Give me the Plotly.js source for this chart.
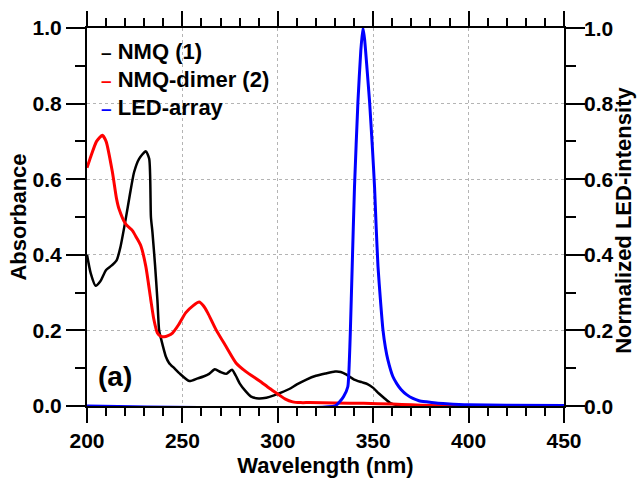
<!DOCTYPE html>
<html>
<head>
<meta charset="utf-8">
<script src="https://cdn.plot.ly/plotly-3.0.1.min.js"></script>
<style>html,body{margin:0;padding:0;background:#fff;}#chart{width:641px;height:478px;}</style>
</head>
<body>
<div id="chart"></div>
<script>
// NMQ (1) absorbance
const nmqX = [200,202,204.5,207,210,213,215.5,217.5,220.3,222.5,224.7,227.3,230.8,232.6,233.5,234.3,235.7,236.9,237.8,238.7,241.3,243,245.7,248.3,253.6,258,261,264,267,270,273,276,278,280,283,286,290,294,298,302,306,310,315,320,325,330,333,336,340,344,347,350,353,356,359,362,366,370,400,450];
const nmqY = [0.40,0.35,0.318,0.33,0.36,0.372,0.385,0.42,0.495,0.56,0.619,0.654,0.674,0.654,0.50,0.46,0.37,0.28,0.20,0.18,0.131,0.114,0.10,0.087,0.066,0.073,0.078,0.085,0.097,0.09,0.085,0.096,0.08,0.06,0.04,0.025,0.02,0.022,0.028,0.036,0.045,0.057,0.07,0.08,0.086,0.091,0.09,0.083,0.07,0.063,0.058,0.048,0.033,0.02,0.008,0.003,0.001,0,0,0];

// NMQ-dimer (2) absorbance
const dimerX = [200,202,205,208,210,213.3,215.5,216.8,220.3,223.8,226,228.2,230.8,233.4,235,236.9,238.5,240.4,242.5,244.8,248,251.8,255.5,258.8,261,263.2,267.6,272.8,278.1,283.3,290.3,295.6,300.8,304,307.8,312,316.6,330,345,360,370,380,390,450];
const dimerY = [0.63,0.66,0.70,0.716,0.70,0.619,0.548,0.521,0.481,0.464,0.445,0.424,0.37,0.282,0.23,0.193,0.185,0.183,0.186,0.193,0.215,0.247,0.265,0.275,0.265,0.247,0.202,0.158,0.114,0.091,0.067,0.047,0.029,0.018,0.011,0.009,0.009,0.008,0.007,0.005,0.003,0.001,0,0];

// LED-array normalized intensity (right axis, same 0-1 scale)
const ledX = [200,330,332.4,334.5,336.7,337.5,338,339,340.2,342,343.5,344.6,345.5,346.8,348.1,349.5,350.7,351.5,352.5,353.8,355.1,356.4,357.7,360.3,362.5,364.7,367.5,370.8,374,377.9,383,388.4,400,420,450];
const ledY = [0,0,0.011,0.025,0.051,0.12,0.193,0.37,0.58,0.805,0.94,1.0,0.97,0.89,0.805,0.69,0.58,0.48,0.37,0.28,0.202,0.155,0.122,0.078,0.058,0.043,0.03,0.02,0.014,0.011,0.008,0.006,0.003,0.002,0.001];

const seriesNames = ['NMQ (1)','NMQ-dimer (2)','LED-array'];
const seriesColors = ['#000000','#ff0000','#0000ff'];
const rightTicks = [0,0.2,0.4,0.6,0.8,1.0];

const F = 'Liberation Sans, Arial, Helvetica, sans-serif';
const font = {family: F, size: 22, weight: 'bold', color: '#000'};
const tfont = {family: F, size: 21, weight: 'bold', color: '#000'};

const traces = [
  {x: nmqX, y: nmqY, name: seriesNames[0], mode: 'lines', line: {color: seriesColors[0], width: 2.5, shape: 'spline', smoothing: 0.6}},
  {x: dimerX, y: dimerY, name: seriesNames[1], mode: 'lines', line: {color: seriesColors[1], width: 3, shape: 'spline', smoothing: 0.6}},
  {x: ledX, y: ledY, name: seriesNames[2], mode: 'lines', line: {color: seriesColors[2], width: 3, shape: 'spline', smoothing: 0.5}}
];

const legY = [0.937, 0.863, 0.791];
const annotations = seriesNames.map((n, i) => ({
  xref: 'paper', yref: 'paper', x: 0.026, y: legY[i], xanchor: 'left', yanchor: 'middle',
  showarrow: false, align: 'left',
  text: '<span style="color:' + seriesColors[i] + ';font-size:19px">–</span> ' + n,
  font: font
}));
annotations.push({xref: 'paper', yref: 'paper', x: 0.058, y: 0.078, xanchor: 'center', yanchor: 'middle',
  showarrow: false, text: '(a)', font: {family: F, size: 28, weight: 'bold', color: '#000'}});
// right-hand axis labels and title
rightTicks.forEach(v => annotations.push({xref: 'paper', yref: 'y', x: 1, y: v, xanchor: 'left', yanchor: 'middle',
  xshift: 18, showarrow: false, text: v.toFixed(1), font: tfont}));
annotations.push({xref: 'paper', yref: 'paper', x: 1, y: 0.49, xanchor: 'center', yanchor: 'middle', xshift: 60,
  textangle: -90, showarrow: false, text: 'Normalized LED-intensity', font: font});

const layout = {
  width: 641, height: 478,
  margin: {l: 87, r: 77, t: 28, b: 72},
  showlegend: false,
  font: font,
  xaxis: {
    range: [200, 450], tickmode: 'linear', tick0: 200, dtick: 50,
    ticks: 'outside', ticklen: 15, tickwidth: 2, tickcolor: '#000',
    minor: {tickmode: 'linear', tick0: 200, dtick: 10, ticks: 'outside', ticklen: 8, tickwidth: 2, tickcolor: '#000', showgrid: false},
    showline: true, linewidth: 2, linecolor: '#000', mirror: 'ticks',
    showgrid: true, gridcolor: '#b4b4b4', griddash: 'dot', gridwidth: 1, zeroline: false,
    tickfont: tfont, title: {text: 'Wavelength (nm)', font: font, standoff: 8}
  },
  yaxis: {
    range: [0, 1.0], tickmode: 'linear', tick0: 0, dtick: 0.2, tickformat: '.1f',
    ticks: 'outside', ticklen: 19, tickwidth: 2, tickcolor: '#000',
    minor: {tickmode: 'linear', tick0: 0, dtick: 0.1, ticks: 'outside', ticklen: 10, tickwidth: 2, tickcolor: '#000', showgrid: false},
    showline: true, linewidth: 2, linecolor: '#000', mirror: 'ticks',
    showgrid: true, gridcolor: '#b4b4b4', griddash: 'dot', gridwidth: 1, zeroline: false,
    tickfont: tfont, title: {text: 'Absorbance', font: font, standoff: 0}
  },
  annotations: annotations
};

Plotly.newPlot('chart', traces, layout, {displayModeBar: false});
</script>
</body>
</html>
